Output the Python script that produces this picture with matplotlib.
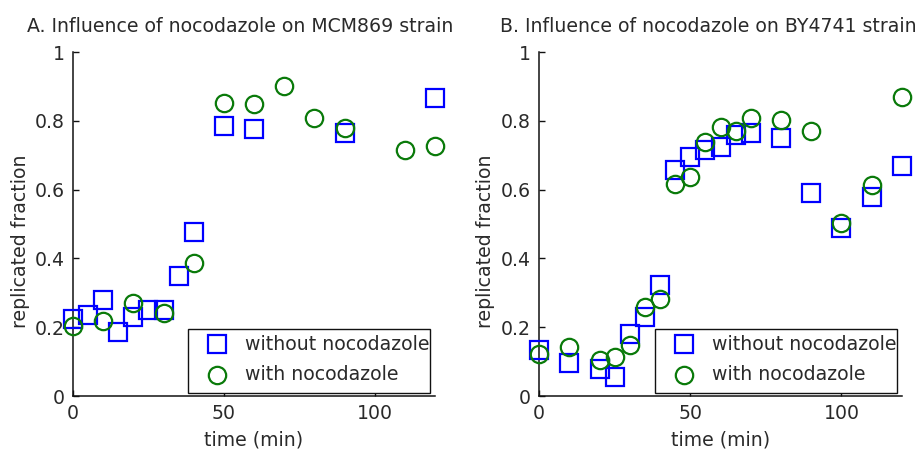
import matplotlib
matplotlib.use("Agg")
import matplotlib.pyplot as plt
from matplotlib.patches import Rectangle
from matplotlib.lines import Line2D

plt.rcParams['font.family'] = ['DejaVu Sans']

# Strain MCM869
t_a_without = [0, 5, 10, 15, 20, 25, 30, 35, 40, 50, 60, 90, 120]
f_a_without = [0.224, 0.235, 0.279, 0.186, 0.230, 0.250, 0.250, 0.349, 0.477,
               0.785, 0.776, 0.765, 0.866]
t_a_with = [0, 10, 20, 30, 40, 50, 60, 70, 80, 90, 110, 120]
f_a_with = [0.204, 0.219, 0.270, 0.241, 0.387, 0.852, 0.849, 0.901, 0.807,
            0.778, 0.715, 0.728]

# Strain BY4741
t_b_without = [0, 10, 20, 25, 30, 35, 40, 45, 50, 55, 60, 65, 70, 80, 90,
               100, 110, 120]
f_b_without = [0.134, 0.096, 0.078, 0.055, 0.180, 0.230, 0.322, 0.657, 0.695,
               0.715, 0.724, 0.759, 0.765, 0.750, 0.590, 0.488, 0.579, 0.669]
t_b_with = [0, 10, 20, 25, 30, 35, 40, 45, 50, 55, 60, 65, 70, 80, 90, 100,
            110, 120]
f_b_with = [0.123, 0.143, 0.105, 0.114, 0.148, 0.259, 0.282, 0.616, 0.636,
            0.739, 0.783, 0.771, 0.807, 0.802, 0.771, 0.502, 0.613, 0.870]

titles = ["A. Influence of nocodazole on MCM869 strain",
          "B. Influence of nocodazole on BY4741 strain"]
legend_labels = ["without nocodazole", "with nocodazole"]
x_ticks = [0, 50, 100]
y_ticks = [0, 0.2, 0.4, 0.6, 0.8, 1]
y_tick_labels = ["0", "0.2", "0.4", "0.6", "0.8", "1"]

W, H = 916, 451
fig = plt.figure(figsize=(W / 100, H / 100), dpi=100)

blue = '#0000ff'
green = '#0a7a0a'
txt = '#2a2a2a'
fs = 13.6

def px(x0, y0, x1, y1):
    return [x0 / W, 1 - y1 / H, (x1 - x0) / W, (y1 - y0) / H]

panels = [
    (px(73, 52, 435, 396), t_a_without, f_a_without, t_a_with, f_a_with,
     titles[0], 27, (188, 329, 430, 393)),
    (px(539, 52, 902, 396), t_b_without, f_b_without, t_b_with, f_b_with,
     titles[1], 500, (655, 329, 897, 393)),
]

for rect, tw, fw, tn, fn, title, title_x, leg in panels:
    ax = fig.add_axes(rect)
    ax.plot(tw, fw, linestyle='none', marker='s', markersize=12.5,
            markerfacecolor='none', markeredgecolor=blue, markeredgewidth=1.6,
            clip_on=False, zorder=3)
    ax.plot(tn, fn, linestyle='none', marker='o', markersize=12.5,
            markerfacecolor='none', markeredgecolor=green, markeredgewidth=1.6,
            clip_on=False, zorder=3)
    ax.set_xlim(0, 120)
    ax.set_ylim(0, 1)
    ax.set_xticks(x_ticks)
    ax.set_yticks(y_ticks)
    ax.set_yticklabels(y_tick_labels)
    for s in ('top', 'right'):
        ax.spines[s].set_visible(False)
    for s in ('left', 'bottom'):
        ax.spines[s].set_linewidth(1.1)
        ax.spines[s].set_color('#111111')
    ax.tick_params(direction='in', length=4, width=1, colors='#111111',
                   labelcolor=txt, labelsize=fs, pad=6)
    ax.set_xlabel("time (min)", fontsize=fs, color=txt, labelpad=5)
    ax.set_ylabel("replicated fraction", fontsize=fs, color=txt)
    ax.yaxis.set_label_coords(-0.12, 0.45)
    ax.patch.set_visible(False)

    fig.text(title_x / W, 1 - 27 / H, title, fontsize=fs, color=txt,
             ha='left', va='center')

    # legend box with marker samples
    lx0, ly0, lx1, ly1 = leg
    box = Rectangle((lx0 / W, 1 - ly1 / H), (lx1 - lx0) / W, (ly1 - ly0) / H,
                    transform=fig.transFigure, facecolor='white',
                    edgecolor='#111111', linewidth=1.0, zorder=5)
    fig.add_artist(box)
    rows = [(344, 's', blue, legend_labels[0]),
            (375, 'o', green, legend_labels[1])]
    for ry, mk, col, lab in rows:
        fig.add_artist(Line2D(
            [(lx0 + 29) / W], [1 - ry / H], transform=fig.transFigure,
            linestyle='none', marker=mk, markersize=12.5,
            markerfacecolor='none', markeredgecolor=col,
            markeredgewidth=1.6, zorder=6))
        t = fig.text((lx0 + 57) / W, 1 - ry / H, lab, fontsize=fs, color=txt,
                     ha='left', va='center', zorder=6)
        t.set_clip_path(box)

fig.savefig("out.png", dpi=100)
